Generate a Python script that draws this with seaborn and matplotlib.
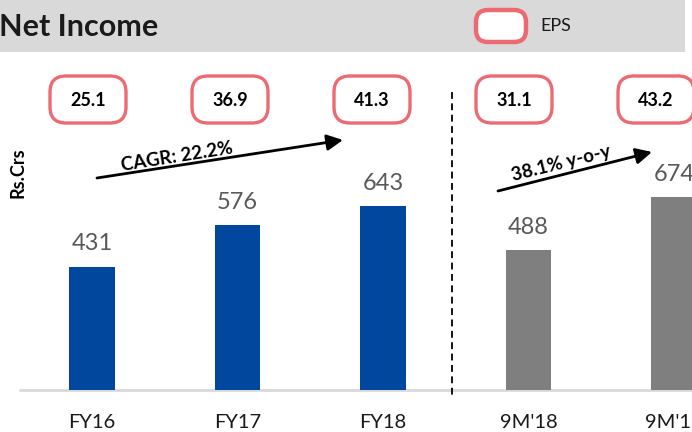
import matplotlib
matplotlib.use('Agg')
import matplotlib.pyplot as plt
import seaborn as sns
from matplotlib.patches import FancyBboxPatch, Rectangle
from matplotlib.lines import Line2D
from matplotlib.transforms import Affine2D, blended_transform_factory

# 데이터
periods = ["FY16", "FY17", "FY18", "9M'18", "9M'19"]
net_income = [431, 576, 643, 488, 674]
eps = [25.1, 36.9, 41.3, 31.1, 43.2]
bar_colors = ['#00479D', '#00479D', '#00479D', '#7F7F7F', '#7F7F7F']
cagr_label = 'CAGR: 22.2%'
yoy_label = '38.1% y-o-y'

W, H = 692, 432
PINK = '#EE6A72'

sns.set_theme(style='white')
plt.rcParams['font.family'] = ['Lato', 'DejaVu Sans']

fig = plt.figure(figsize=(W / 100, H / 100), dpi=100)
# 픽셀 좌표 (위에서부터 y)
px = Affine2D().scale(1, -1).translate(0, H).scale(1 / W, 1 / H) + fig.transFigure

ax = fig.add_axes([0, 0, 1, 1])
sns.barplot(x=periods, y=net_income, hue=periods, palette=bar_colors,
            width=0.31, saturation=1, linewidth=0, legend=False, ax=ax)
ax.set_xlim(-92 / 145.5, (W - 92) / 145.5)
ax.set_ylim(-(H - 390) / 0.286, 390 / 0.286)
ax.axis('off')

# 막대 위 값
for c in ax.containers:
    ax.bar_label(c, fmt='%d', padding=9, fontsize=17, color='#595959')

# 기준선
ax.axhline(0, xmin=20 / W, xmax=1, color='#D9D9D9', lw=2, zorder=0)

# x 라벨
xt = blended_transform_factory(ax.transData, px)
for i, p in enumerate(periods):
    ax.text(i, 422, p, transform=xt, ha='center', va='center',
            fontsize=14.5, color='#1a1a1a')

# 헤더
ax.add_patch(Rectangle((0, 0), 685, 52, transform=px, fc='#D9D9D9',
                       ec='none', clip_on=False))
ax.text(-1, 27, 'Net Income', transform=px, ha='left', va='center',
        fontsize=22, fontweight='bold', color='#1a1a1a')
ax.add_patch(FancyBboxPatch((476, 10), 50, 32, transform=px,
                            boxstyle='round,pad=0,rounding_size=12',
                            fc='white', ec=PINK, lw=3.2, clip_on=False))
ax.text(540, 26, 'EPS', transform=px, ha='left', va='center',
        fontsize=13, color='#1a1a1a')

# EPS 박스
for i, v in enumerate(eps):
    bx = ax.transData.transform((i, 0))[0] - 3.5 * i - 4
    ax.add_patch(FancyBboxPatch((bx - 38, 76), 76, 47, transform=px,
                                boxstyle='round,pad=0,rounding_size=16',
                                fc='white', ec=PINK, lw=2.4, clip_on=False))
    ax.text(bx, 100, f'{v:.1f}', transform=px, ha='center', va='center',
            fontsize=13, fontweight='bold', color='black')

# 구분선
ax.add_line(Line2D([452, 452], [92, 398], transform=px, color='black',
                   lw=1.3, dashes=(3.8, 2.5), clip_on=False))

# 성장률 화살표
arrow = dict(arrowstyle='-|>', color='black', lw=2, mutation_scale=24,
             shrinkA=0, shrinkB=0)
ax.annotate('', xy=(343, 140), xytext=(97, 178), xycoords=px,
            textcoords=px, arrowprops=arrow)
ax.text(177, 157, cagr_label, transform=px, rotation=9,
        rotation_mode='anchor', ha='center', va='center',
        fontsize=13.5, fontweight='bold', color='black')
ax.annotate('', xy=(652, 152), xytext=(498, 191), xycoords=px,
            textcoords=px, arrowprops=arrow)
ax.text(561, 163, yoy_label, transform=px, rotation=14,
        rotation_mode='anchor', ha='center', va='center',
        fontsize=13.5, fontweight='bold', color='black')

ax.text(18, 173, 'Rs.Crs', transform=px, rotation=90, ha='center',
        va='center', fontsize=13, fontweight='bold', color='black')

fig.savefig('out.png', dpi=100)
